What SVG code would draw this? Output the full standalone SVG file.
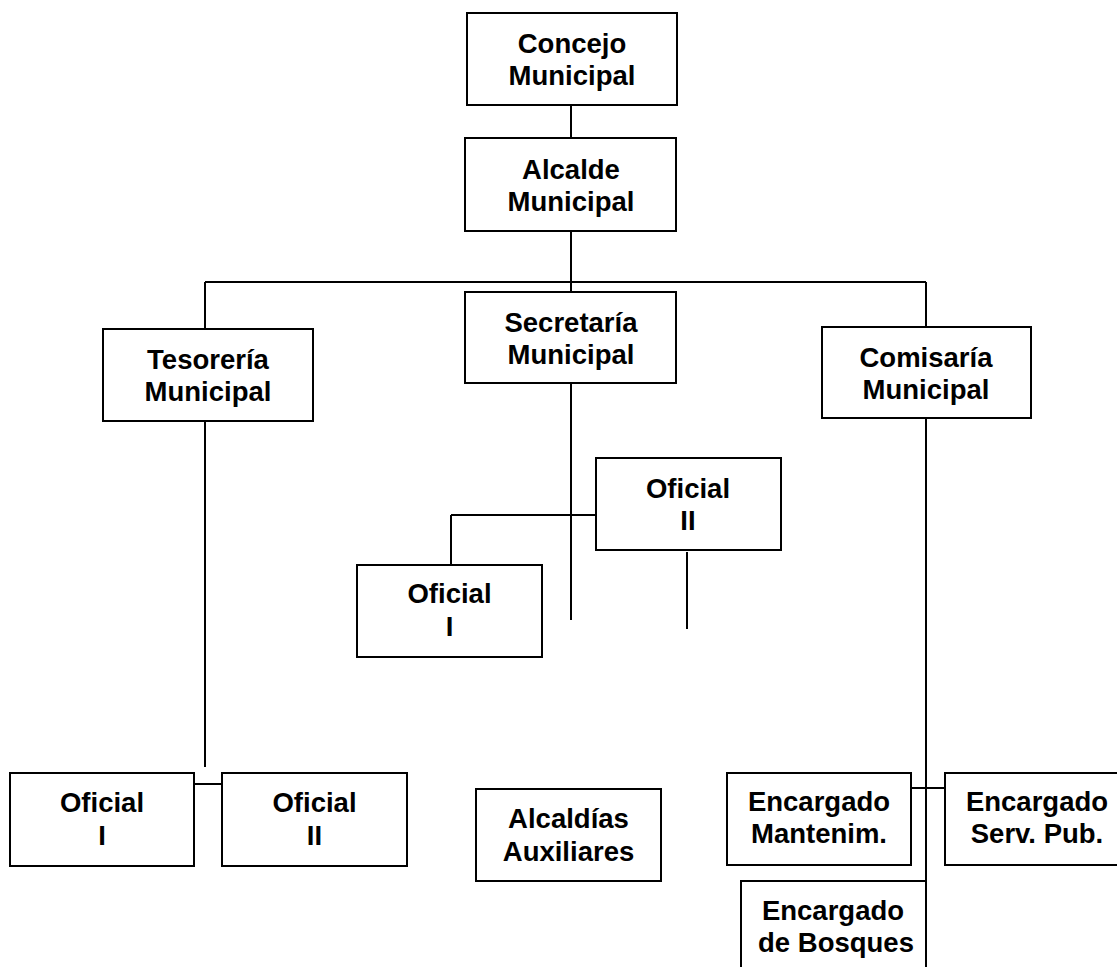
<svg xmlns="http://www.w3.org/2000/svg" width="1117" height="967" viewBox="0 0 1117 967">
<style>
.box{fill:#ffffff;stroke:#000000;stroke-width:2}
.ln{stroke:#000000;stroke-width:2;fill:none}
.t{font-family:"Liberation Sans",Arial,sans-serif;font-weight:bold;font-size:27.5px;fill:#000000;text-anchor:middle}
</style>
<rect x="0" y="0" width="1117" height="967" fill="#ffffff"/>
<g id="connectors">
<line class="ln" x1="571" y1="105" x2="571" y2="138"/>
<line class="ln" x1="571" y1="231" x2="571" y2="292"/>
<line class="ln" x1="205" y1="282" x2="926" y2="282"/>
<line class="ln" x1="205" y1="282" x2="205" y2="329"/>
<line class="ln" x1="926" y1="282" x2="926" y2="327"/>
<line class="ln" x1="571" y1="383" x2="571" y2="620"/>
<line class="ln" x1="451" y1="515" x2="596" y2="515"/>
<line class="ln" x1="451" y1="515" x2="451" y2="565"/>
<line class="ln" x1="687" y1="552" x2="687" y2="629"/>
<line class="ln" x1="205" y1="421" x2="205" y2="767"/>
<line class="ln" x1="194" y1="784" x2="222" y2="784"/>
<line class="ln" x1="926" y1="418" x2="926" y2="967"/>
<line class="ln" x1="911" y1="788" x2="945" y2="788"/>
</g>
<g id="concejo">
<rect class="box" x="467" y="13" width="210" height="92"/>
<text class="t" x="572" y="53">Concejo</text>
<text class="t" x="572" y="85">Municipal</text>
</g>
<g id="alcalde">
<rect class="box" x="465" y="138" width="211" height="93"/>
<text class="t" x="571" y="179">Alcalde</text>
<text class="t" x="571" y="211">Municipal</text>
</g>
<g id="secretaria">
<rect class="box" x="465" y="292" width="211" height="91"/>
<text class="t" x="571" y="332">Secretaría</text>
<text class="t" x="571" y="364">Municipal</text>
</g>
<g id="tesoreria">
<rect class="box" x="103" y="329" width="210" height="92"/>
<text class="t" x="208" y="369">Tesorería</text>
<text class="t" x="208" y="401">Municipal</text>
</g>
<g id="comisaria">
<rect class="box" x="822" y="327" width="209" height="91"/>
<text class="t" x="926" y="367">Comisaría</text>
<text class="t" x="926" y="399">Municipal</text>
</g>
<g id="sec-oficial-ii">
<rect class="box" x="596" y="458" width="185" height="92"/>
<text class="t" x="688" y="498">Oficial</text>
<text class="t" x="688" y="530">II</text>
</g>
<g id="sec-oficial-i">
<rect class="box" x="357" y="565" width="185" height="92"/>
<text class="t" x="449.5" y="603">Oficial</text>
<text class="t" x="449.5" y="636">I</text>
</g>
<g id="tes-oficial-i">
<rect class="box" x="10" y="773" width="184" height="93"/>
<text class="t" x="102" y="812">Oficial</text>
<text class="t" x="102" y="845">I</text>
</g>
<g id="tes-oficial-ii">
<rect class="box" x="222" y="773" width="185" height="93"/>
<text class="t" x="314.5" y="812">Oficial</text>
<text class="t" x="314.5" y="845">II</text>
</g>
<g id="alcaldias">
<rect class="box" x="476" y="789" width="185" height="92"/>
<text class="t" x="568.5" y="828">Alcaldías</text>
<text class="t" x="568.5" y="861">Auxiliares</text>
</g>
<g id="mantenim">
<rect class="box" x="727" y="773" width="184" height="92"/>
<text class="t" x="819" y="811">Encargado</text>
<text class="t" x="819" y="843">Mantenim.</text>
</g>
<g id="servpub">
<rect class="box" x="945" y="773" width="185" height="92"/>
<text class="t" x="1037" y="811">Encargado</text>
<text class="t" x="1037" y="843">Serv. Pub.</text>
</g>
<g id="bosques">
<rect class="box" x="741" y="881" width="185" height="92"/>
<text class="t" x="833" y="920">Encargado</text>
<text class="t" x="836" y="952">de Bosques</text>
</g>
</svg>
